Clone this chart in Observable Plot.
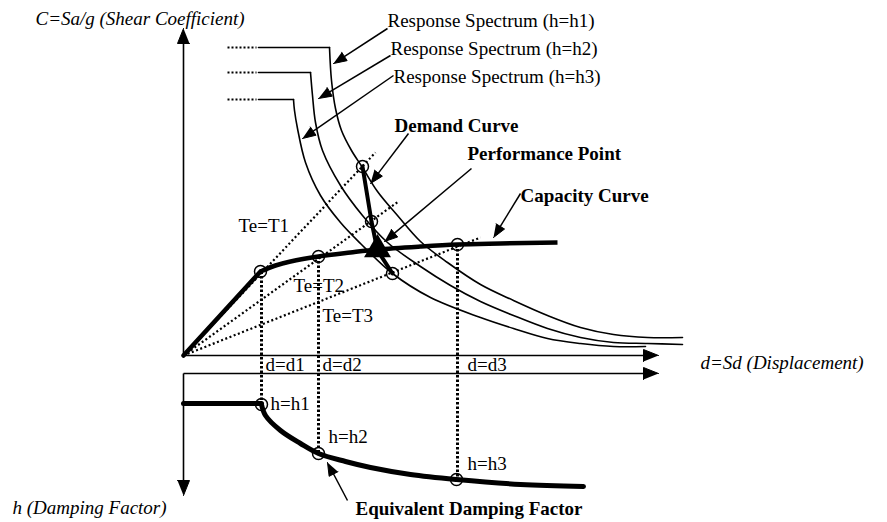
<!DOCTYPE html>
<html>
<head>
<meta charset="utf-8">
<script src="https://cdn.jsdelivr.net/npm/d3@7"></script>
<script src="https://cdn.jsdelivr.net/npm/@observablehq/plot@0.6"></script>
<style>
  html, body { margin: 0; padding: 0; background: #fff; }
  #chart svg { display: block; }
</style>
</head>
<body>
<div id="chart"></div>
<script>
// Schematic units: d = displacement (right), C = shear coefficient (up); lower panel uses negative C for damping h.

// Response spectra (flat plateau + descending branch)
const plateauH1 = [[75, 308], [146, 308]];
const plateauH2 = [[75, 283], [127, 283]];
const plateauH3 = [[75, 256], [110, 256]];
const plateauDots = [[44, 308, 73, 308], [44, 283, 73, 283], [44, 256, 73, 256]];

const spectrumH1 = [[146,308],[148,275],[152,247],[158,225],[168,205],[179,188],[194,164],[214,140],[237,114],[264,93],[297,71],[330,55],[364,40],[397,28],[430,21],[464,18],[499,18]];
const spectrumH2 = [[127,283],[129,260],[132,233],[139,205],[157,170],[179,140],[204,113],[237,89],[267,70],[297,54],[330,40],[364,27],[397,18],[430,13],[464,12],[499,11]];
const spectrumH3 = [[110,256],[111,245],[114,227],[122,193],[137,160],[157,133],[177,112],[209,82],[247,58],[297,38],[330,27],[364,17],[397,12],[430,9],[462,9]];

// Capacity curve
const capacityElastic = [[0, 0], [77, 84]];
const capacityCurve = [[77,84],[92,90],[107,94],[135,99],[167,103],[194,106],[237,109],[274,111],[317,112],[374,113]];

// Equivalent period lines (from origin)
const periodLines = [[0, 0, 192, 203], [0, 0, 215, 154], [0, 0, 297, 118]];

// Demand curve and performance point
const demandCurve = [[179,189],[188,134],[194,105],[209,82]];
const performancePoint = [[194, 106]];
const upperCircles = [[77,84],[135,99],[274,111],[179,189],[188,134],[209,82]];

// Equivalent damping factor
const dampingFlat = [[0, -48], [78, -48]];
const dampingCurve = [[78,-49],[82,-60],[97,-75],[117,-88],[135,-98],[162,-106],[187,-112],[227,-119],[273,-124],[337,-129],[400,-131]];
const lowerCircles = [[78,-49],[135,-98],[273,-124]];

// Dotted projection lines d1, d2, d3
const projections = [[78, 84, 78, -49], [135, 99, 135, -98], [274, 111, 274, -124]];

// Axes [x1, y1, x2, y2] (arrow at the second end)
const axes = [[0, 0, 0, 327], [0, 0, 475, 0], [0, -18, 475, -18], [0, -18, 0, -140]];

// Annotation pointers [x1, y1, x2, y2]
const pointers = [
  [204, 327, 150, 292],
  [207, 300, 135, 257],
  [210, 280, 119, 217],
  [225, 222, 187, 172],
  [288, 187, 201, 114],
  [337, 162, 310, 118],
  [164, -145, 144, -107]
];

// Labels [x, y, text]
const plainLabels = [
  [204, 335, "Response Spectrum (h=h1)"],
  [207, 307, "Response Spectrum (h=h2)"],
  [210, 279, "Response Spectrum (h=h3)"],
  [55, 130, "Te=T1"],
  [110, 70, "Te=T2"],
  [139, 40, "Te=T3"],
  [82, -9, "d=d1"],
  [139, -9, "d=d2"],
  [284, -9, "d=d3"],
  [87, -48, "h=h1"],
  [145, -81, "h=h2"],
  [284, -108, "h=h3"]
];
const axisLabels = [
  [-148, 337, "C=Sa/g (Shear Coefficient)"],
  [517, -7, "d=Sd (Displacement)"],
  [-171, -152, "h (Damping Factor)"]
];
const boldLabels = [
  [211, 230, "Demand Curve"],
  [284, 202, "Performance Point"],
  [337, 160, "Capacity Curve"],
  [172, -153, "Equivalent Damping Factor"]
];

// Build arrowhead triangles from segment ends
function heads(segs, len, half) {
  const out = [];
  segs.forEach((s, i) => {
    const [x1, y1, x2, y2] = s;
    const dx = x2 - x1, dy = y2 - y1, L = Math.hypot(dx, dy);
    const ux = dx / L, uy = dy / L;
    const bx = x2 - ux * len, by = y2 - uy * len;
    out.push({x: x2, y: y2, id: i});
    out.push({x: bx - uy * half, y: by + ux * half, id: i});
    out.push({x: bx + uy * half, y: by - ux * half, id: i});
  });
  return out;
}
function shafts(segs, len) {
  return segs.map(([x1, y1, x2, y2]) => {
    const dx = x2 - x1, dy = y2 - y1, L = Math.hypot(dx, dy);
    return [x1, y1, x2 - dx / L * len * 0.8, y2 - dy / L * len * 0.8];
  });
}

const P = (arr) => arr.map(([x, y]) => ({x, y}));
const font = "'Liberation Serif', 'Times New Roman', serif";
const seg = {x1: d => d[0], y1: d => d[1], x2: d => d[2], y2: d => d[3]};
const lab = {x: d => d[0], y: d => d[1], text: d => d[2], textAnchor: "start", fontSize: 19, fill: "#000"};

const chart = Plot.plot({
  width: 887,
  height: 522,
  margin: 0,
  x: {domain: [-183, 704], axis: null},
  y: {domain: [-167, 355], axis: null},
  style: {fontFamily: font, fontSize: "19px", background: "#fff", color: "#000"},
  marks: [
    // axes
    Plot.link(shafts(axes, 14), {...seg, stroke: "#000", strokeWidth: 1.6}),
    Plot.line(heads(axes, 15, 6), {x: "x", y: "y", z: "id", fill: "#000", stroke: "#000", strokeWidth: 1}),
    // dotted leaders of the plateaus
    Plot.link(plateauDots, {...seg, stroke: "#000", strokeWidth: 1.8, strokeDasharray: "2,2"}),
    // period lines
    Plot.link(periodLines, {...seg, stroke: "#000", strokeWidth: 2.2, strokeDasharray: "2,2.5"}),
    // projections
    Plot.link(projections, {...seg, stroke: "#000", strokeWidth: 3, strokeDasharray: "2.5,2"}),
    // spectra
    Plot.line(P(plateauH1), {x: "x", y: "y", stroke: "#000", strokeWidth: 1.6}),
    Plot.line(P(plateauH2), {x: "x", y: "y", stroke: "#000", strokeWidth: 1.6}),
    Plot.line(P(plateauH3), {x: "x", y: "y", stroke: "#000", strokeWidth: 1.6}),
    Plot.line(P(spectrumH1), {x: "x", y: "y", stroke: "#000", strokeWidth: 1.6, curve: "catmull-rom"}),
    Plot.line(P(spectrumH2), {x: "x", y: "y", stroke: "#000", strokeWidth: 1.6, curve: "catmull-rom"}),
    Plot.line(P(spectrumH3), {x: "x", y: "y", stroke: "#000", strokeWidth: 1.6, curve: "catmull-rom"}),
    // capacity
    Plot.line(P(capacityElastic), {x: "x", y: "y", stroke: "#000", strokeWidth: 4.5, strokeLinecap: "round"}),
    Plot.line(P(capacityCurve), {x: "x", y: "y", stroke: "#000", strokeWidth: 4.5, curve: "catmull-rom", strokeLinecap: "butt"}),
    // demand
    Plot.line(P(demandCurve), {x: "x", y: "y", stroke: "#000", strokeWidth: 4, strokeLinejoin: "round"}),
    // damping
    Plot.line(P(dampingFlat), {x: "x", y: "y", stroke: "#000", strokeWidth: 5}),
    Plot.line(P(dampingCurve), {x: "x", y: "y", stroke: "#000", strokeWidth: 5, curve: "catmull-rom"}),
    // circles
    Plot.dot(P(upperCircles), {x: "x", y: "y", r: 6, stroke: "#000", strokeWidth: 1.5, fill: "none"}),
    Plot.dot(P(lowerCircles), {x: "x", y: "y", r: 6, stroke: "#000", strokeWidth: 1.5, fill: "none"}),
    // performance point
    Plot.dot(P(performancePoint), {x: "x", y: "y", r: 10, symbol: "triangle", fill: "#000", stroke: "none"}),
    // pointers
    Plot.link(shafts(pointers, 12), {...seg, stroke: "#000", strokeWidth: 1.5}),
    Plot.line(heads(pointers, 13, 5), {x: "x", y: "y", z: "id", fill: "#000", stroke: "#000", strokeWidth: 1}),
    // labels
    Plot.text(plainLabels, {...lab}),
    Plot.text(axisLabels, {...lab, fontStyle: "italic"}),
    Plot.text(boldLabels, {...lab, fontWeight: "bold"})
  ]
});
document.getElementById("chart").appendChild(chart);
</script>
</body>
</html>
